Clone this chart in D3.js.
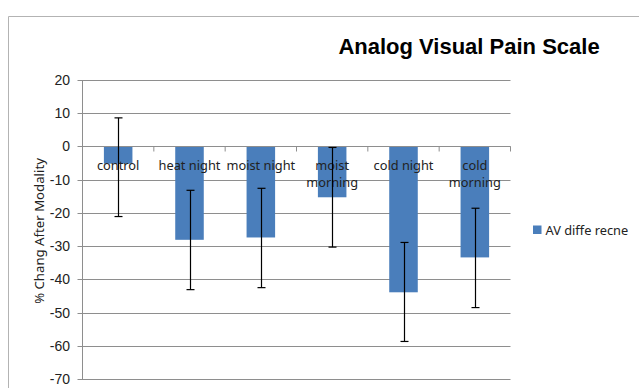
<!DOCTYPE html>
<html><head><meta charset="utf-8">
<script src="https://cdn.jsdelivr.net/npm/d3@7"></script>
<style>body{margin:0;background:#fff;}svg{display:block;}</style>
</head><body>
<svg id="c" width="639" height="388"></svg>
<script>
const categories = [["control"], ["heat night"], ["moist night"], ["moist", "morning"], ["cold night"], ["cold", "morning"]];
const values = [-5.2, -28.1, -27.4, -15.3, -43.9, -33.4];
const errUpper = [8.6, -13.2, -12.6, -0.3, -28.9, -18.6];
const errLower = [-21.1, -43.1, -42.5, -30.3, -58.7, -48.5];
const yTicks = [20, 10, 0, -10, -20, -30, -40, -50, -60, -70];
const seriesName = "AV diffe recne";
const title = "Analog Visual Pain Scale";
const yTitle = "% Chang After Modality";

const svg = d3.select("#c");
const L = 82.5, R = 510.5, T = 80, B = 379;
const x = d3.scaleBand().domain(d3.range(categories.length)).range([L, R]).paddingInner(0.6).paddingOuter(0.3);
const xb = d3.scaleBand().domain(d3.range(categories.length)).range([L, R]);
const y = d3.scaleLinear().domain([-70, 20]).range([B, T]);
const blue = "#4a7ebb";
const grid = "#8e8e8e";

// outer chart border
svg.append("path").attr("d", "M8.5,400 V16.5 H650").attr("fill", "none").attr("stroke", "#b3b3b3").attr("stroke-width", 1);

// gridlines
svg.append("g").selectAll("line").data(yTicks).join("line")
  .attr("x1", L - 5).attr("x2", R).attr("y1", d => Math.round(y(d)) + 0.5).attr("y2", d => Math.round(y(d)) + 0.5)
  .attr("stroke", grid).attr("stroke-width", 1);
// y axis line
svg.append("line").attr("x1", L).attr("x2", L).attr("y1", T).attr("y2", B).attr("stroke", grid);
// y labels
svg.append("g").selectAll("text").data(yTicks).join("text")
  .attr("x", 70).attr("y", d => y(d) + 5).attr("text-anchor", "end")
  .attr("font-family", "Liberation Sans, Arial, sans-serif").attr("font-size", 14).attr("fill", "#222")
  .text(d => d);

// bars
svg.append("g").selectAll("rect").data(values).join("rect")
  .attr("x", (d, i) => x(i)).attr("width", x.bandwidth())
  .attr("y", d => y(Math.max(0, d))).attr("height", d => Math.abs(y(d) - y(0)))
  .attr("fill", blue);

// zero axis line and category ticks
const y0 = Math.round(y(0)) + 0.5;
svg.append("line").attr("x1", L).attr("x2", R).attr("y1", y0).attr("y2", y0).attr("stroke", grid);
svg.append("g").selectAll("line").data(d3.range(categories.length + 1)).join("line")
  .attr("x1", i => (i < categories.length ? xb(i) : R)).attr("x2", i => (i < categories.length ? xb(i) : R))
  .attr("y1", y0).attr("y2", y0 + 5).attr("stroke", grid);

// category labels
const lab = svg.append("g").selectAll("text").data(categories).join("text")
  .attr("x", (d, i) => xb(i) + xb.bandwidth() / 2).attr("y", 170)
  .attr("text-anchor", "middle").attr("font-family", "Noto Sans, Open Sans, sans-serif").attr("font-size", 12.8).attr("fill", "#222");
lab.selectAll("tspan").data(d => d).join("tspan")
  .attr("x", function () { return this.parentNode.getAttribute("x"); })
  .attr("dy", (d, i) => (i === 0 ? 0 : 17)).text(d => d);

// error bars
const eb = svg.append("g").attr("stroke", "#000").attr("stroke-width", 1.2);
values.forEach((v, i) => {
  const cx = Math.round(x(i) + x.bandwidth() / 2) + 0.5;
  eb.append("line").attr("x1", cx).attr("x2", cx).attr("y1", y(errUpper[i])).attr("y2", y(errLower[i]));
  [errUpper[i], errLower[i]].forEach(e => {
    eb.append("line").attr("x1", cx - 4).attr("x2", cx + 4).attr("y1", y(e)).attr("y2", y(e));
  });
});

// title
svg.append("text").attr("x", 469).attr("y", 53.5).attr("text-anchor", "middle")
  .attr("font-family", "Liberation Sans, Arial, sans-serif").attr("font-weight", "bold").attr("font-size", 22).attr("fill", "#000")
  .text(title);

// y title
svg.append("text").attr("transform", "translate(44,231) rotate(-90)").attr("text-anchor", "middle")
  .attr("font-family", "Noto Sans, Open Sans, sans-serif").attr("font-size", 13.2).attr("fill", "#222")
  .text(yTitle);

// legend
svg.append("rect").attr("x", 533).attr("y", 225.5).attr("width", 8.5).attr("height", 8.5).attr("fill", blue);
svg.append("text").attr("x", 545.5).attr("y", 234.5)
  .attr("font-family", "Noto Sans, Open Sans, sans-serif").attr("font-size", 12.8).attr("fill", "#222")
  .text(seriesName);
</script>
</body></html>
